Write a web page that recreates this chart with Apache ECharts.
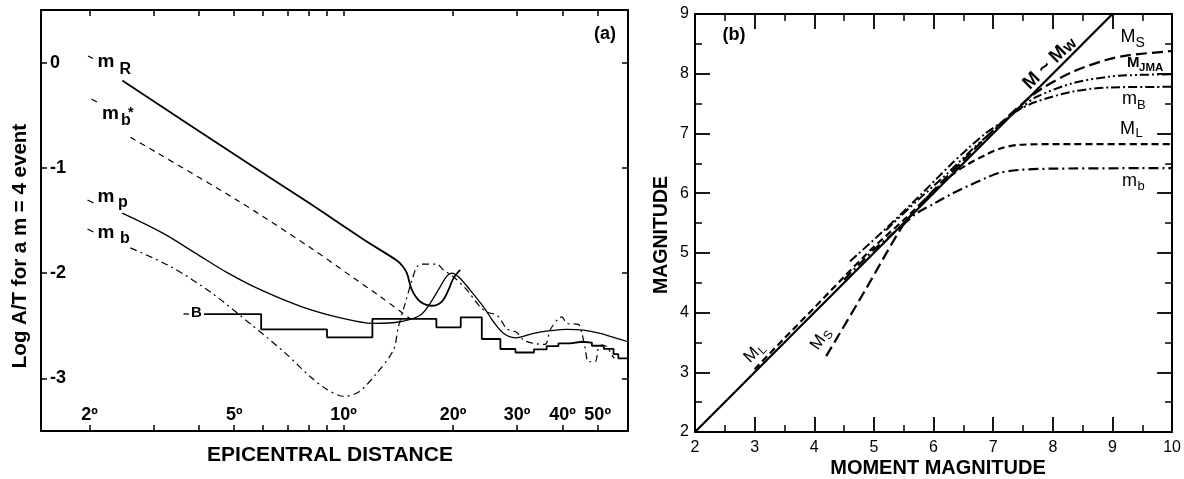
<!DOCTYPE html>
<html>
<head>
<meta charset="utf-8">
<title>Magnitude scales</title>
<script src="https://cdn.jsdelivr.net/npm/echarts@6/dist/echarts.min.js"></script>
<style>
  html, body { margin: 0; padding: 0; background: #fff; }
  #chart { width: 1184px; height: 479px; }
</style>
</head>
<body>
<div id="chart"></div>
<script>
// ---------- (a) amplitude vs epicentral distance: [degrees, log A/T] ----------
const curveMR = [[2.46,-0.17],[5.0,-0.87],[8.0,-1.33],[11.46,-1.69],[14.01,-1.88],[14.5,-1.93],[14.93,-2.0],
  [15.41,-2.16],[16.24,-2.27],[17.49,-2.31],[18.63,-2.27],[19.43,-2.16],[20.05,-2.05],[20.93,-1.97]];
const curveMbStar = [[2.59,-0.71],[5.0,-1.29],[8.2,-1.77],[10.2,-2.0],[12.58,-2.22],[15.2,-2.43]];
const curveMp = [[2.46,-1.43],[3.18,-1.62],[3.91,-1.81],[4.81,-2.0],[5.92,-2.16],[7.68,-2.32],[9.94,-2.43],
  [12.08,-2.477],[14.31,-2.462],[16.24,-2.4],[17.3,-2.287],[18.43,-2.13],[19.23,-2.028],[19.85,-2.0],[20.7,-2.035],
  [22.29,-2.161],[24.25,-2.32],[25.84,-2.462],[27.53,-2.572],[29.65,-2.615],[30.94,-2.604],[33.3,-2.572],
  [37.0,-2.547],[41.14,-2.534],[45.7,-2.541],[50.8,-2.572],[56.46,-2.62],[60.6,-2.652]];
const curveMb = [[2.59,-1.76],[3.35,-1.94],[4.34,-2.19],[5.62,-2.5],[6.91,-2.76],[8.07,-2.98],[8.95,-3.1],
  [10.0,-3.17],[11.0,-3.13],[12.34,-2.95],[13.71,-2.73],[14.15,-2.51],[14.76,-2.29],[15.41,-2.07],[15.9,-1.94],
  [16.41,-1.915],[18.05,-1.915],[18.82,-1.97],[20.05,-2.035],[21.83,-2.16],[23.74,-2.32],[24.77,-2.37],
  [26.4,-2.4],[27.25,-2.46],[28.12,-2.53],[29.97,-2.563],[31.25,-2.636],[33.3,-2.667],[35.85,-2.677],
  [37.0,-2.541],[39.0,-2.43],[39.85,-2.415],[41.14,-2.477],[44.27,-2.487],[45.24,-2.572],[46.19,-2.714],
  [47.17,-2.842],[49.2,-2.842],[50.25,-2.714],[51.33,-2.683],[53.0,-2.699],[54.7,-2.778],[55.6,-2.81]];
// step boundaries: value holds until the next boundary
const curveB = [[4.13,-2.389],[5.93,-2.534],[9.0,-2.61],[12.0,-2.434],[18.0,-2.515],[21.0,-2.42],[24.0,-2.626],
  [27.0,-2.721],[29.7,-2.754],[33.4,-2.724],[36.2,-2.693],[39.0,-2.667],[42.0,-2.652],[45.2,-2.66],
  [48.2,-2.69],[52.0,-2.72],[55.3,-2.77],[57.0,-2.81],[60.6,-2.81]];
const distTicks = [2,3,4,5,6,7,8,9,10,20,30,40,50];
const distLabels = [2,5,10,20,30,40,50];
const logAtLabels = [0,-1,-2,-3];

// ---------- (b) magnitude vs moment magnitude: [Mw, M] ----------
const lineMw = [[2,2],[9,9]];
const scaleML = [[3.0,3.05],[3.5,3.57],[4.0,4.08],[4.5,4.6],[5.0,5.1],[5.5,5.55],[6.0,6.03],[6.3,6.3],
  [6.55,6.47],[6.87,6.64],[7.16,6.76],[7.45,6.81],[8.0,6.82],[10.0,6.82]];
const scaleMS = [[4.2,3.27],[4.84,4.35],[5.48,5.45],[5.75,5.78],[6.0,6.05],[6.5,6.55],[7.0,7.05],[7.49,7.5],
  [7.83,7.76],[8.33,8.03],[8.89,8.23],[9.28,8.31],[10.0,8.38]];
const scaleMJMA = [[5.2,5.38],[5.7,5.85],[6.2,6.3],[6.7,6.78],[7.2,7.22],[7.5,7.45],[7.72,7.61],[8.33,7.84],
  [8.94,7.95],[9.44,7.98],[10.0,7.99]];
const scaleMBbroad = [[4.6,4.86],[5.13,5.34],[5.71,5.9],[6.29,6.48],[6.58,6.75],[6.87,7.0],[7.16,7.2],
  [7.4,7.38],[7.72,7.53],[8.33,7.7],[8.94,7.77],[10.0,7.78]];
const scaleMbShort = [[4.5,4.55],[5.0,5.05],[5.48,5.46],[5.71,5.66],[6.0,5.82],[6.29,5.98],[6.58,6.12],
  [6.87,6.25],[7.1,6.34],[7.45,6.39],[8.0,6.41],[10.0,6.42]];

const FONT = '"Liberation Sans", Arial, Helvetica, sans-serif';
const BLACK = '#000';
const toLog = pts => pts.map(p => [Math.log10(p[0]), p[1]]);

function axisBase(extra) {
  return Object.assign({
    type: 'value',
    axisLine: { show: true, onZero: false, lineStyle: { color: BLACK, width: 2 } },
    splitLine: { show: false },
  }, extra);
}

const LOG_MIN = Math.log10(1.47), LOG_MAX = Math.log10(60.6);

const leftX = (pos, labels) => axisBase({
  gridIndex: 0, position: pos, min: LOG_MIN, max: LOG_MAX,
  axisTick: { show: true, inside: true, length: 6, customValues: distTicks.map(Math.log10),
              lineStyle: { color: BLACK, width: 1.5 } },
  axisLabel: labels ? { show: true, inside: true, margin: 7, customValues: distLabels.map(Math.log10),
      formatter: v => Math.round(Math.pow(10, v)) + 'º',
      color: BLACK, fontSize: 18, fontWeight: 'bold', fontFamily: FONT } : { show: false }
});
const leftY = (pos, labels) => axisBase({
  gridIndex: 0, position: pos, min: -3.5, max: 0.5,
  axisTick: { show: true, inside: true, length: 6, customValues: logAtLabels, lineStyle: { color: BLACK, width: 1.5 } },
  axisLabel: labels ? { show: true, inside: true, margin: 9, customValues: logAtLabels,
      color: BLACK, fontSize: 18, fontWeight: 'bold', fontFamily: FONT } : { show: false }
});
const rightAxis = (gi, pos, min, max, labels, margin) => axisBase({
  gridIndex: gi, position: pos, min: min, max: max, interval: 1,
  axisTick: { show: true, inside: true, length: 15, lineStyle: { color: BLACK, width: 1.8 } },
  minorTick: { show: true, splitNumber: 2, length: 7, lineStyle: { color: BLACK, width: 1.5 } },
  axisLabel: labels ? { show: true, margin: margin, color: BLACK, fontSize: 16, fontFamily: FONT } : { show: false }
});

function line(name, data, xi, yi, width, dash, smooth, step) {
  return {
    name: name, type: 'line', xAxisIndex: xi, yAxisIndex: yi, data: data,
    showSymbol: false, symbol: 'none', smooth: smooth || false, step: step || false,
    lineStyle: { color: BLACK, width: width, type: dash || 'solid', cap: 'butt' },
    silent: true, z: 3
  };
}

// text helpers for the curve labels
function t(x, y, text, size, weight, align) {
  return { type: 'text', x: x, y: y, silent: true,
    style: { text: text, fontSize: size, fontWeight: weight || 'normal', fontFamily: FONT, fill: BLACK,
             align: align || 'left', verticalAlign: 'middle', textAlign: align || 'left', textVerticalAlign: 'middle' } };
}
function grp(x, y, rot, children) {
  return { type: 'group', x: x, y: y, rotation: rot, children: children, silent: true };
}
function dash(x1, y1, x2, y2) {
  return { type: 'line', silent: true, shape: { x1: x1, y1: y1, x2: x2, y2: y2 }, style: { stroke: BLACK, lineWidth: 1.3 } };
}

const graphics = [
  // (a) titles
  Object.assign(t(20.5, 246, 'Log A/T for a m = 4 event', 20.5, 'bold', 'center'), { rotation: Math.PI / 2 }),
  t(330, 455, 'EPICENTRAL DISTANCE', 21, 'bold', 'center'),
  t(594, 34.5, '(a)', 18, 'bold'),
  // (a) curve labels
  dash(88, 56, 93, 58.5), t(97.5, 61.5, 'm', 19, 'bold'), t(119.5, 69.5, 'R', 16, 'bold'),
  dash(91.5, 99, 97, 102), t(102, 113.3, 'm', 19, 'bold'), t(121, 120.5, 'b', 16, 'bold'), t(128, 113, '*', 14, 'bold'),
  dash(87.5, 200, 93.5, 203), t(97.5, 196.3, 'm', 19, 'bold'), t(118, 203, 'p', 16, 'bold'),
  dash(87.5, 229, 93.5, 232), t(97.5, 232.3, 'm', 19, 'bold'), t(120, 239, 'b', 16, 'bold'),
  dash(183.5, 314, 189, 314), t(191, 313, 'B', 15, 'bold'),
  // (b) titles
  Object.assign(t(662, 235, 'MAGNITUDE', 19.5, 'bold', 'center'), { rotation: Math.PI / 2 }),
  t(938, 468, 'MOMENT MAGNITUDE', 20, 'bold', 'center'),
  t(722.5, 35.5, '(b)', 18, 'bold'),
  // (b) curve labels at the right edge
  t(1120.5, 37.4, 'M', 18), t(1135.5, 43.5, 'S', 14),
  t(1127, 62.8, 'M', 15, 'bold'), t(1139, 67.5, 'JMA', 11.5, 'bold'),
  t(1122, 99, 'm', 18), t(1137, 105, 'B', 13),
  t(1120, 129, 'M', 18), t(1135.5, 133.3, 'L', 13),
  t(1122, 181, 'm', 18), t(1137.5, 186, 'b', 13),
  // (b) labels along the lines
  grp(755.8, 351, Math.PI / 4, [t(-13, 0, 'M', 17), t(2, 4.5, 'L', 12)]),
  grp(821, 338.6, 0.96, [t(-12, 0, 'M', 17), t(3, 4.5, 'S', 12)]),
  grp(1050, 62.5, Math.PI / 4, [t(-34, 0, 'M ~ M', 19, 'bold'), t(20, 2, 'w', 16, 'bold')])
];

const chart = echarts.init(document.getElementById('chart'), null, { renderer: 'canvas' });
chart.setOption({
  animation: false,
  backgroundColor: '#fff',
  grid: [
    { left: 41, top: 10, width: 587, height: 421 },
    { left: 695, top: 14, width: 479, height: 418 }
  ],
  xAxis: [
    leftX('bottom', true), leftX('top', false),
    rightAxis(1, 'bottom', 2, 10, true, 8), rightAxis(1, 'top', 2, 10, false)
  ],
  yAxis: [
    leftY('left', true), leftY('right', false),
    rightAxis(1, 'left', 2, 9, true, 6), rightAxis(1, 'right', 2, 9, false)
  ],
  series: [
    line('mR', toLog(curveMR), 0, 0, 1.8, 'solid', 0.35),
    line('mb*', toLog(curveMbStar), 0, 0, 1.2, [6, 5], 0.3),
    line('mp', toLog(curveMp), 0, 0, 1.3, 'solid', 0.35),
    line('mb', toLog(curveMb), 0, 0, 1.2, [7, 4, 2, 4], 0.3),
    line('B', toLog(curveB), 0, 0, 1.8, 'solid', false, 'end'),
    line('M ~ Mw', lineMw, 2, 2, 2.2, 'solid'),
    line('ML', scaleML, 2, 2, 2.2, [7, 4], 0.3),
    line('MS', scaleMS, 2, 2, 2.2, [11, 5], 0.3),
    line('MJMA', scaleMJMA, 2, 2, 2, [9, 3, 2, 3, 2, 3], 0.3),
    line('mB', scaleMBbroad, 2, 2, 2, [9, 3, 2, 3], 0.3),
    line('mb', scaleMbShort, 2, 2, 2.2, [10, 4, 2, 4], 0.3)
  ],
  graphic: { elements: graphics }
});
</script>
</body>
</html>
